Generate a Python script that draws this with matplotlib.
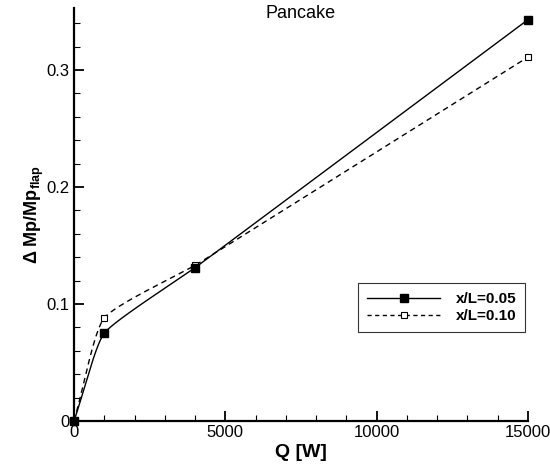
import numpy as np
import matplotlib.pyplot as plt
from matplotlib.ticker import MultipleLocator, FixedFormatter, FixedLocator

plt.rcParams['font.family'] = ['Liberation Sans', 'DejaVu Sans']
plt.rcParams['mathtext.default'] = 'regular'

# Heat input Q [W] and pressure-moment ratio for two stations
q = [0, 1000, 4000, 15000]
dmp_005 = [0.0, 0.075, 0.131, 0.343]
dmp_010 = [0.0, 0.088, 0.133, 0.311]

xticks = [0, 5000, 10000, 15000]
xtick_labels = ['0', '5000', '10000', '15000']
yticks = [0, 0.1, 0.2, 0.3]
ytick_labels = ['0', '0.1', '0.2', '0.3']

XMAX, YMAX = 15000, 0.353
ASPECT = 413 / 454  # axes height / width in pixels


def smooth_curve(x, y, tension=0.5, n=120):
    # rounded polyline: parametric Hermite pieces in screen-like units,
    # node tangents along the bisector of the neighbouring segments
    p = np.column_stack([np.asarray(x, float) / XMAX,
                         np.asarray(y, float) / YMAX * ASPECT])
    seg = np.diff(p, axis=0)
    length = np.hypot(seg[:, 0], seg[:, 1])
    unit = seg / length[:, None]
    k = len(p)
    tang = np.zeros_like(p)
    mag = np.zeros(k)
    tang[0], mag[0] = unit[0], length[0]
    tang[-1], mag[-1] = unit[-1], length[-1]
    for i in range(1, k - 1):
        b = unit[i - 1] + unit[i]
        tang[i] = b / np.hypot(*b)
        mag[i] = tension * min(length[i - 1], length[i])
    s = np.linspace(0, 1, n)[:, None]
    h00 = 2 * s**3 - 3 * s**2 + 1
    h10 = s**3 - 2 * s**2 + s
    h01 = -2 * s**3 + 3 * s**2
    h11 = s**3 - s**2
    pts = []
    for i in range(k - 1):
        m0 = tang[i] * min(mag[i], length[i])
        m1 = tang[i + 1] * min(mag[i + 1], length[i])
        pts.append(h00 * p[i] + h10 * m0 + h01 * p[i + 1] + h11 * m1)
    pts = np.vstack(pts)
    return pts[:, 0] * XMAX, pts[:, 1] / ASPECT * YMAX


fig = plt.figure(figsize=(5.5, 4.68), dpi=100)
ax = fig.add_axes([0.1345, 0.1004, 0.8255, 0.8826])

xs, ys = smooth_curve(q, dmp_005)
ax.plot(xs, ys, color='black', linewidth=1.0, clip_on=False)
ax.plot(q, dmp_005, linestyle='none', marker='s', markersize=5.8,
        markerfacecolor='black', markeredgecolor='black', clip_on=False, zorder=4)

xs, ys = smooth_curve(q, dmp_010)
ax.plot(xs, ys, color='black', linewidth=1.0, linestyle=(0, (4, 3)), clip_on=False)
ax.plot(q, dmp_010, linestyle='none', marker='s', markersize=5.0,
        markerfacecolor='white', markeredgecolor='black', markeredgewidth=0.8,
        clip_on=False, zorder=3)

# legend handles
h1, = ax.plot([], [], color='black', linewidth=1.0, marker='s', markersize=5.8,
              markerfacecolor='black')
h2, = ax.plot([], [], color='black', linewidth=1.0, linestyle=(0, (3, 2.5)),
              marker='s', markersize=4.5, markerfacecolor='white',
              markeredgewidth=0.8)
leg = ax.legend([h1, h2], ['x/L=0.05', 'x/L=0.10'], loc='upper right',
                bbox_to_anchor=(0.994, 0.334), frameon=True, fancybox=False,
                handlelength=4.8, handletextpad=1.0, borderpad=0.6,
                labelspacing=0.2, prop={'weight': 'bold', 'size': 11},
                numpoints=1, borderaxespad=0)
leg.get_frame().set_edgecolor('black')
leg.get_frame().set_linewidth(0.8)

ax.set_xlim(0, XMAX)
ax.set_ylim(0, YMAX)
ax.spines['top'].set_visible(False)
ax.spines['right'].set_visible(False)
for s in ('left', 'bottom'):
    ax.spines[s].set_linewidth(1.6)

ax.xaxis.set_major_locator(FixedLocator(xticks))
ax.xaxis.set_major_formatter(FixedFormatter(xtick_labels))
ax.yaxis.set_major_locator(FixedLocator(yticks))
ax.yaxis.set_major_formatter(FixedFormatter(ytick_labels))
ax.xaxis.set_minor_locator(MultipleLocator(1000))
ax.yaxis.set_minor_locator(MultipleLocator(0.02))
ax.tick_params(which='major', direction='in', length=7.5, width=1.3,
               labelsize=12, pad=3)
ax.tick_params(which='minor', direction='in', length=4, width=0.8)

ax.set_xlabel('Q [W]', fontsize=14, fontweight='bold', labelpad=3)
ax.set_ylabel('Δ Mp/Mp$_{flap}$', fontsize=13, fontweight='bold', labelpad=0.5)
ax.set_title('Pancake', fontsize=13, y=0.955)

fig.savefig('out.png', dpi=100)
